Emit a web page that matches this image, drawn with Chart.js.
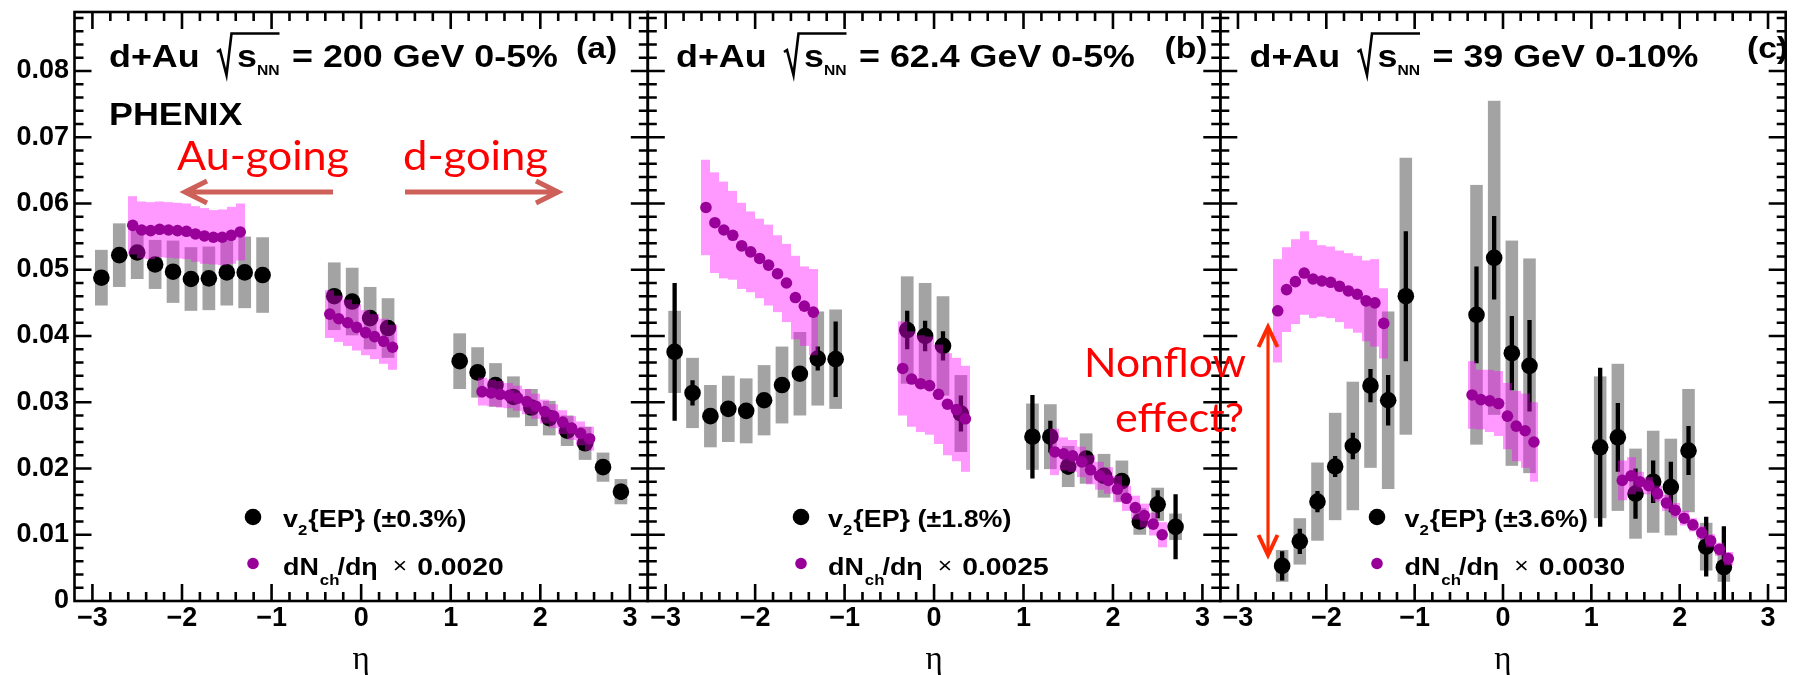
<!DOCTYPE html>
<html>
<head>
<meta charset="utf-8">
<script src="https://cdn.jsdelivr.net/npm/chart.js@4.4.1/dist/chart.umd.min.js"></script>
<style>
  html, body { margin: 0; padding: 0; background: #fff; }
  #wrap { position: relative; width: 1794px; height: 675px; overflow: hidden; }
  #wrap canvas { position: absolute; left: 0; top: 0; }
</style>
</head>
<body>
<div id="wrap">
  <canvas id="pa" width="1794" height="675"></canvas>
  <canvas id="pb" width="1794" height="675"></canvas>
  <canvas id="pc" width="1794" height="675"></canvas>
</div>
<script>
// ---- axis ticks ----
const xTicks = [-3, -2, -1, 0, 1, 2, 3];
const xTickLabels = ['\u22123', '\u22122', '\u22121', '0', '1', '2', '3'];
const yTicks = [0, 0.01, 0.02, 0.03, 0.04, 0.05, 0.06, 0.07, 0.08];
const yTickLabels = ['0', '0.01', '0.02', '0.03', '0.04', '0.05', '0.06', '0.07', '0.08'];

// ---- panel (a): 200 GeV ----
const etaV2A = [-2.9, -2.7, -2.5, -2.3, -2.1, -1.9, -1.7, -1.5, -1.3, -1.1, -0.3, -0.1, 0.1, 0.3, 1.1, 1.3, 1.5, 1.7, 1.9, 2.1, 2.3, 2.5, 2.7, 2.9];
const v2A = [0.0488, 0.0522, 0.0526, 0.0508, 0.0497, 0.0486, 0.0487, 0.0496, 0.0496, 0.0492, 0.0460, 0.0452, 0.0427, 0.0412, 0.0362, 0.0345, 0.0326, 0.0308, 0.0292, 0.0276, 0.0257, 0.0238, 0.0202, 0.0165];
const v2StatA = [0.0004, 0.0004, 0.0004, 0.0004, 0.0004, 0.0004, 0.0004, 0.0004, 0.0004, 0.0004, 0.0004, 0.0004, 0.0004, 0.0004, 0.0004, 0.0004, 0.0004, 0.0004, 0.0004, 0.0004, 0.0004, 0.0004, 0.0008, 0.0012];
const v2SysA = [0.0042, 0.0048, 0.0040, 0.0037, 0.0047, 0.0048, 0.0048, 0.0050, 0.0054, 0.0057, 0.0051, 0.0051, 0.0047, 0.0045, 0.0042, 0.0038, 0.0033, 0.0031, 0.0028, 0.0026, 0.0023, 0.0025, 0.0022, 0.0019];
const etaDnA = [-2.55, -2.45, -2.35, -2.25, -2.15, -2.05, -1.95, -1.85, -1.75, -1.65, -1.55, -1.45, -1.35, -0.35, -0.25, -0.15, -0.05, 0.05, 0.15, 0.25, 0.35, 1.35, 1.45, 1.55, 1.65, 1.75, 1.85, 1.95, 2.05, 2.15, 2.25, 2.35, 2.45, 2.55];
const dnA = [0.0567, 0.0560, 0.0559, 0.0561, 0.0560, 0.0559, 0.0558, 0.0554, 0.0551, 0.0549, 0.0549, 0.0552, 0.0557, 0.0433, 0.0426, 0.0420, 0.0413, 0.0405, 0.0399, 0.0392, 0.0383, 0.0316, 0.0314, 0.0312, 0.0310, 0.0306, 0.0301, 0.0294, 0.0286, 0.0279, 0.0270, 0.0261, 0.0253, 0.0245];
const dnSysA = [0.0044, 0.0043, 0.0043, 0.0042, 0.0042, 0.0042, 0.0042, 0.0042, 0.0042, 0.0041, 0.0042, 0.0043, 0.0043, 0.0036, 0.0035, 0.0035, 0.0035, 0.0034, 0.0034, 0.0034, 0.0034, 0.0021, 0.0020, 0.0020, 0.0019, 0.0019, 0.0019, 0.0019, 0.0018, 0.0018, 0.0018, 0.0018, 0.0018, 0.0018];

// ---- panel (b): 62.4 GeV ----
const etaV2B = [-2.9, -2.7, -2.5, -2.3, -2.1, -1.9, -1.7, -1.5, -1.3, -1.1, -0.3, -0.1, 0.1, 0.3, 1.1, 1.3, 1.5, 1.7, 1.9, 2.1, 2.3, 2.5, 2.7];
const v2B = [0.0376, 0.0314, 0.0279, 0.0290, 0.0287, 0.0303, 0.0326, 0.0343, 0.0366, 0.0365, 0.0409, 0.0400, 0.0385, 0.0283, 0.0248, 0.0248, 0.0203, 0.0215, 0.0189, 0.0181, 0.0120, 0.0146, 0.0112];
const v2StatB = [0.0104, 0.0019, 0.0006, 0.0006, 0.0006, 0.0006, 0.0006, 0.0006, 0.0018, 0.0057, 0.0029, 0.0023, 0.0022, 0.0027, 0.0063, 0.0024, 0.0012, 0.0008, 0.0008, 0.0008, 0.0008, 0.0021, 0.0049];
const v2SysB = [0.0062, 0.0053, 0.0047, 0.0050, 0.0049, 0.0053, 0.0058, 0.0063, 0.0071, 0.0075, 0.0081, 0.0080, 0.0075, 0.0058, 0.0050, 0.0049, 0.0031, 0.0038, 0.0033, 0.0031, 0.0020, 0.0025, 0.0020];
const etaDnB = [-2.55, -2.45, -2.35, -2.25, -2.15, -2.05, -1.95, -1.85, -1.75, -1.65, -1.55, -1.45, -1.35, -0.35, -0.25, -0.15, -0.05, 0.05, 0.15, 0.25, 0.35, 1.35, 1.45, 1.55, 1.65, 1.75, 1.85, 1.95, 2.05, 2.15, 2.25, 2.35, 2.45, 2.55];
const dnB = [0.0594, 0.0571, 0.0560, 0.0552, 0.0536, 0.0527, 0.0517, 0.0507, 0.0494, 0.0480, 0.0458, 0.0445, 0.0436, 0.0351, 0.0335, 0.0328, 0.0325, 0.0312, 0.0297, 0.0289, 0.0275, 0.0225, 0.0222, 0.0219, 0.0210, 0.0198, 0.0189, 0.0182, 0.0169, 0.0155, 0.0141, 0.0129, 0.0116, 0.0100];
const dnSysB = [0.0072, 0.0076, 0.0073, 0.0067, 0.0065, 0.0061, 0.0060, 0.0061, 0.0058, 0.0059, 0.0063, 0.0060, 0.0065, 0.0071, 0.0072, 0.0073, 0.0074, 0.0075, 0.0077, 0.0078, 0.0080, 0.0035, 0.0025, 0.0024, 0.0023, 0.0022, 0.0021, 0.0020, 0.0020, 0.0019, 0.0018, 0.0018, 0.0017, 0.0019];

// ---- panel (c): 39 GeV ----
const etaV2C = [-2.5, -2.3, -2.1, -1.9, -1.7, -1.5, -1.3, -1.1, -0.3, -0.1, 0.1, 0.3, 1.1, 1.3, 1.5, 1.7, 1.9, 2.1, 2.3, 2.5];
const v2C = [0.0053, 0.0090, 0.0150, 0.0203, 0.0234, 0.0325, 0.0303, 0.0460, 0.0432, 0.0518, 0.0374, 0.0355, 0.0232, 0.0247, 0.0162, 0.0180, 0.0172, 0.0227, 0.0082, 0.0051];
const v2StatC = [0.0022, 0.0019, 0.0016, 0.0016, 0.0020, 0.0025, 0.0038, 0.0098, 0.0073, 0.0063, 0.0056, 0.0069, 0.0120, 0.0052, 0.0038, 0.0032, 0.0038, 0.0037, 0.0045, 0.0062];
const v2SysC = [0.0024, 0.0035, 0.0059, 0.0081, 0.0097, 0.0124, 0.0134, 0.0209, 0.0196, 0.0237, 0.0170, 0.0162, 0.0107, 0.0111, 0.0068, 0.0077, 0.0073, 0.0093, 0.0036, 0.0022];
const etaDnC = [-2.55, -2.45, -2.35, -2.25, -2.15, -2.05, -1.95, -1.85, -1.75, -1.65, -1.55, -1.45, -1.35, -0.35, -0.25, -0.15, -0.05, 0.05, 0.15, 0.25, 0.35, 1.35, 1.45, 1.55, 1.65, 1.75, 1.85, 1.95, 2.05, 2.15, 2.25, 2.35, 2.45, 2.55];
const dnC = [0.0438, 0.0470, 0.0482, 0.0495, 0.0486, 0.0483, 0.0481, 0.0475, 0.0468, 0.0463, 0.0453, 0.0450, 0.0419, 0.0311, 0.0304, 0.0302, 0.0298, 0.0279, 0.0264, 0.0257, 0.0240, 0.0182, 0.0189, 0.0180, 0.0174, 0.0162, 0.0148, 0.0137, 0.0125, 0.0115, 0.0103, 0.0091, 0.0078, 0.0064];
const dnSysC = [0.0078, 0.0064, 0.0064, 0.0063, 0.0059, 0.0054, 0.0054, 0.0054, 0.0057, 0.0058, 0.0061, 0.0066, 0.0053, 0.0051, 0.0045, 0.0047, 0.0049, 0.0050, 0.0053, 0.0056, 0.0060, 0.0030, 0.0028, 0.0015, 0.0013, 0.0012, 0.0012, 0.0011, 0.0011, 0.0010, 0.0010, 0.0010, 0.0010, 0.0010];

// ---- styles ----
const GRAY = '#a3a3a3';
const PINK = 'rgba(255,0,255,0.4)';
const PURPLE = '#990099';
const V2_BOX_HALF = 0.071;   // eta half-width of the grey systematic boxes
const DN_BOX_HALF = 0.05;    // eta half-width of the pink boxes
const SANS = '"Liberation Sans", Arial, Helvetica, sans-serif';
const CALI = 'Lato, "Open Sans", sans-serif';
const SX = 1.12;             // ROOT helvetica is a little wider than Arial

// draws text, returns advance width
function txt(ctx, s, x, y, size, o = {}) {
    ctx.save();
    ctx.font = `${o.weight || 'bold'} ${size}px ${o.family || SANS}`;
    ctx.fillStyle = o.color || '#000';
    ctx.textAlign = 'left';
    ctx.textBaseline = 'alphabetic';
    const w = ctx.measureText(s).width;
    const sx = o.width ? o.width / w : (o.sx || SX);
    ctx.translate(x, y);
    ctx.scale(sx, 1);
    ctx.fillText(s, 0, 0);
    ctx.restore();
    return w * sx;
}

function drawFrame(chart) {
    const ctx = chart.ctx, xs = chart.scales.x, ys = chart.scales.y;
    const { left, right, top, bottom } = chart.chartArea;
    ctx.save();
    ctx.strokeStyle = '#000';
    ctx.lineWidth = 2.6;
    ctx.strokeRect(left, top, right - left, bottom - top);
    ctx.beginPath();
    for (let k = -15; k <= 15; k++) {
        const px = xs.getPixelForValue(k * 0.2);
        const len = k % 5 === 0 ? 17 : 9;
        ctx.moveTo(px, bottom); ctx.lineTo(px, bottom - len);
        ctx.moveTo(px, top); ctx.lineTo(px, top + len);
    }
    for (let k = 1; k <= 44; k++) {
        const py = ys.getPixelForValue(k * 0.002);
        const len = k % 5 === 0 ? 17 : 9;
        ctx.moveTo(left, py); ctx.lineTo(left + len, py);
        ctx.moveTo(right, py); ctx.lineTo(right - len, py);
    }
    ctx.stroke();
    ctx.restore();
}

function drawTitle(ctx, cfg) {
    const x0 = cfg.titleX;
    txt(ctx, 'd+Au', x0, 67, 32);
    ctx.save();
    ctx.strokeStyle = '#000';
    ctx.lineWidth = 2.6;
    ctx.lineJoin = 'miter';
    ctx.beginPath();
    ctx.moveTo(x0 + 108, 52);
    ctx.lineTo(x0 + 111, 50);
    ctx.lineTo(x0 + 117.5, 75);
    ctx.lineTo(x0 + 122.5, 33.5);
    ctx.lineTo(x0 + 170.5, 33.5);
    ctx.stroke();
    ctx.restore();
    txt(ctx, 's', x0 + 128, 67, 32);
    txt(ctx, 'NN', x0 + 148, 75, 14);
    txt(ctx, cfg.energy, x0 + 183, 67, 32);
    txt(ctx, cfg.tag, cfg.tagX, 58, 30);
    if (cfg.phenix) txt(ctx, 'PHENIX', x0, 125, 32);
}

function drawLegend(ctx, cfg) {
    ctx.save();
    ctx.fillStyle = '#000';
    ctx.beginPath(); ctx.arc(cfg.legX, 517, 8.3, 0, Math.PI * 2); ctx.fill();
    ctx.fillStyle = PURPLE;
    ctx.beginPath(); ctx.arc(cfg.legX, 563.5, 5.8, 0, Math.PI * 2); ctx.fill();
    ctx.restore();
    let x = cfg.legTextX;
    x += txt(ctx, 'v', x, 527, 24);
    x += txt(ctx, '2', x, 535, 15);
    txt(ctx, '{EP} ' + cfg.v2Note, x + 1, 527, 24);
    x = cfg.legTextX;
    x += txt(ctx, 'dN', x, 575, 24);
    x += txt(ctx, 'ch', x + 1, 585, 15) - 1;
    x += txt(ctx, '/d\u03b7', x, 575, 24);
    x += 15;
    x += txt(ctx, '\u00d7', x, 573, 22, { weight: 'normal' });
    txt(ctx, cfg.dnScale, x + 10, 575, 24, { sx: 1.18 });
}

function drawOverlay(ctx) {
    txt(ctx, 'Au-going', 177, 170, 40, { weight: 'normal', family: CALI, color: '#ff0000', width: 172 });
    txt(ctx, 'd-going', 403, 170, 40, { weight: 'normal', family: CALI, color: '#ff0000', width: 145 });
    txt(ctx, 'Nonflow', 1084, 377, 40, { weight: 'normal', family: CALI, color: '#ff0000', width: 162 });
    txt(ctx, 'effect?', 1115, 432, 40, { weight: 'normal', family: CALI, color: '#ff0000', width: 129 });
    ctx.save();
    ctx.strokeStyle = '#cd6159';
    ctx.lineWidth = 5;
    ctx.beginPath();
    ctx.moveTo(333, 192); ctx.lineTo(187, 192);
    ctx.moveTo(207, 181); ctx.lineTo(185, 192); ctx.lineTo(207, 203);
    ctx.moveTo(405, 192); ctx.lineTo(556, 192);
    ctx.moveTo(536, 181); ctx.lineTo(558, 192); ctx.lineTo(536, 203);
    ctx.stroke();
    ctx.strokeStyle = '#ff2a00';
    ctx.lineWidth = 3.2;
    ctx.beginPath();
    ctx.moveTo(1268, 330); ctx.lineTo(1268, 551);
    ctx.stroke();
    ctx.lineWidth = 4;
    ctx.beginPath();
    ctx.moveTo(1258.5, 347); ctx.lineTo(1268, 327); ctx.lineTo(1277.5, 347);
    ctx.moveTo(1258.5, 535); ctx.lineTo(1268, 555); ctx.lineTo(1277.5, 535);
    ctx.stroke();
    ctx.restore();
}

function makePlugin(cfg) {
    return {
        id: 'phenix_' + cfg.id,
        beforeDatasetDraw(chart, args) {
            const ctx = chart.ctx, xs = chart.scales.x, ys = chart.scales.y, a = chart.chartArea;
            ctx.save();
            ctx.beginPath();
            ctx.rect(a.left, a.top, a.right - a.left, a.bottom - a.top);
            ctx.clip();
            if (args.index === 0) {
                // grey systematic boxes, then statistical bars
                ctx.fillStyle = GRAY;
                cfg.etaV2.forEach((e, i) => {
                    const x0 = xs.getPixelForValue(e - V2_BOX_HALF), x1 = xs.getPixelForValue(e + V2_BOX_HALF);
                    const y0 = ys.getPixelForValue(cfg.v2[i] + cfg.sys[i]), y1 = ys.getPixelForValue(cfg.v2[i] - cfg.sys[i]);
                    ctx.fillRect(x0, y0, x1 - x0, y1 - y0);
                });
                ctx.strokeStyle = '#000';
                ctx.lineWidth = 4.3;
                ctx.beginPath();
                cfg.etaV2.forEach((e, i) => {
                    const px = xs.getPixelForValue(e);
                    ctx.moveTo(px, ys.getPixelForValue(cfg.v2[i] + cfg.stat[i]));
                    ctx.lineTo(px, ys.getPixelForValue(cfg.v2[i] - cfg.stat[i]));
                });
                ctx.stroke();
            } else {
                // translucent pink boxes for dNch/deta
                ctx.fillStyle = PINK;
                cfg.etaDn.forEach((e, i) => {
                    const x0 = Math.round(xs.getPixelForValue(e - DN_BOX_HALF)), x1 = Math.round(xs.getPixelForValue(e + DN_BOX_HALF));
                    const y0 = ys.getPixelForValue(cfg.dn[i] + cfg.dnSys[i]), y1 = ys.getPixelForValue(cfg.dn[i] - cfg.dnSys[i]);
                    ctx.fillRect(x0, y0, x1 - x0, y1 - y0);
                });
            }
            ctx.restore();
        },
        afterDraw(chart) {
            const ctx = chart.ctx;
            drawFrame(chart);
            drawTitle(ctx, cfg);
            drawLegend(ctx, cfg);
            if (cfg.overlay) drawOverlay(ctx);
        }
    };
}

// keep the axes from pushing the plot area around
function noPad(s) {
    s.paddingTop = 0;
    s.paddingBottom = 0;
    s.paddingLeft = 0;
    s.paddingRight = 0;
}

function makePanel(cfg) {
    const tickFont = { family: SANS, size: 27, weight: 'bold' };
    return new Chart(document.getElementById(cfg.id), {
        type: 'scatter',
        data: {
            datasets: [
                {
                    label: 'v2{EP}',
                    data: cfg.etaV2.map((e, i) => ({ x: e, y: cfg.v2[i] })),
                    order: 2,
                    pointRadius: 8.3,
                    pointHoverRadius: 8.3,
                    pointBackgroundColor: '#000',
                    pointBorderWidth: 0
                },
                {
                    label: 'dNch/deta',
                    data: cfg.etaDn.map((e, i) => ({ x: e, y: cfg.dn[i] })),
                    order: 1,
                    pointRadius: 5.8,
                    pointHoverRadius: 5.8,
                    pointBackgroundColor: PURPLE,
                    pointBorderWidth: 0
                }
            ]
        },
        options: {
            responsive: false,
            animation: false,
            devicePixelRatio: 1,
            layout: { padding: { left: cfg.showY ? 0 : cfg.left, right: 1794 - cfg.right, top: 12, bottom: 0 } },
            plugins: { legend: { display: false }, tooltip: { enabled: false } },
            scales: {
                x: {
                    type: 'linear',
                    min: -3.2,
                    max: 3.2,
                    afterBuildTicks: s => { s.ticks = xTicks.map(v => ({ value: v })); },
                    ticks: {
                        callback: v => xTickLabels[xTicks.indexOf(v)],
                        font: tickFont,
                        color: '#000',
                        padding: 1,
                        maxRotation: 0,
                        autoSkip: false
                    },
                    grid: { display: false, drawTicks: false },
                    border: { display: false },
                    title: {
                        display: true,
                        text: '\u03b7',
                        color: '#000',
                        font: { family: '"Liberation Serif", "Times New Roman", serif', size: 33, lineHeight: 0.88 },
                        padding: { top: 0, bottom: 0 }
                    },
                    afterFit: s => { s.height = 74; noPad(s); }
                },
                y: {
                    type: 'linear',
                    min: 0,
                    max: 0.0889,
                    display: cfg.showY,
                    afterBuildTicks: s => { s.ticks = yTicks.map(v => ({ value: v })); },
                    ticks: {
                        callback: v => yTickLabels[yTicks.indexOf(v)],
                        font: tickFont,
                        color: '#000',
                        padding: 5.5,
                        autoSkip: false
                    },
                    grid: { display: false, drawTicks: false },
                    border: { display: false },
                    afterFit: s => { s.width = cfg.showY ? cfg.left : 0; noPad(s); }
                }
            }
        },
        plugins: [makePlugin(cfg)]
    });
}

makePanel({
    id: 'pa', left: 74.5, right: 647.8, showY: true,
    etaV2: etaV2A, v2: v2A, stat: v2StatA, sys: v2SysA,
    etaDn: etaDnA, dn: dnA, dnSys: dnSysA,
    titleX: 109, energy: '= 200 GeV 0-5%', tag: '(a)', tagX: 576, phenix: true,
    legX: 253, legTextX: 283, v2Note: '(\u00b10.3%)', dnScale: '0.0020'
});
makePanel({
    id: 'pb', left: 647.8, right: 1220.3, showY: false,
    etaV2: etaV2B, v2: v2B, stat: v2StatB, sys: v2SysB,
    etaDn: etaDnB, dn: dnB, dnSys: dnSysB,
    titleX: 676, energy: '= 62.4 GeV 0-5%', tag: '(b)', tagX: 1164.5,
    legX: 801, legTextX: 828, v2Note: '(\u00b11.8%)', dnScale: '0.0025'
});
makePanel({
    id: 'pc', left: 1220.3, right: 1791, showY: false,
    etaV2: etaV2C, v2: v2C, stat: v2StatC, sys: v2SysC,
    etaDn: etaDnC, dn: dnC, dnSys: dnSysC,
    titleX: 1249.5, energy: '= 39 GeV 0-10%', tag: '(c)', tagX: 1747, overlay: true,
    legX: 1377, legTextX: 1404.5, v2Note: '(\u00b13.6%)', dnScale: '0.0030'
});
</script>
</body>
</html>
